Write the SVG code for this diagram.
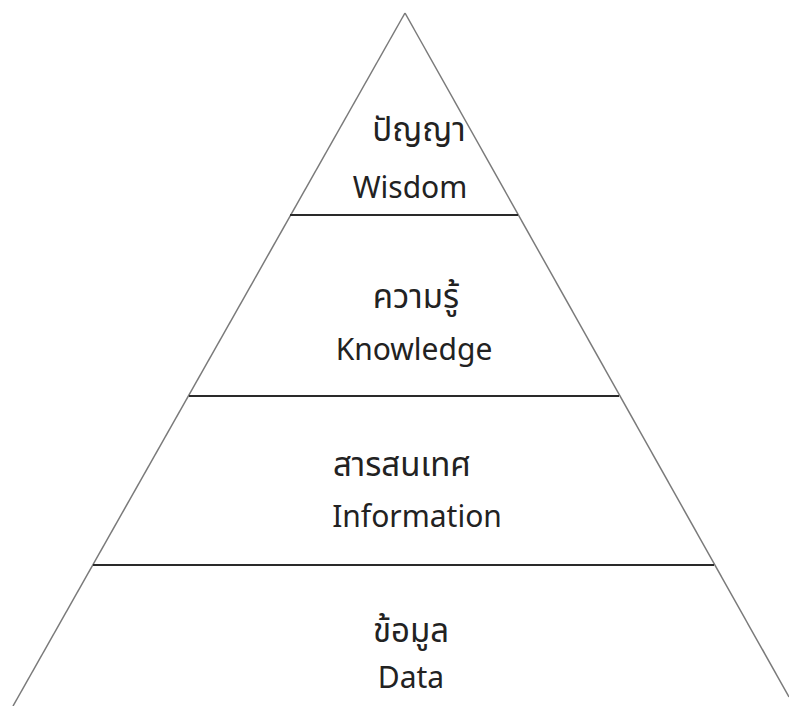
<svg xmlns="http://www.w3.org/2000/svg" width="789" height="706" viewBox="0 0 789 706">
<style>
.side{stroke:#7a7a7a;stroke-width:1.5;fill:none}
.div{stroke:#2a2a2a;stroke-width:2}
text{font-family:"Noto Sans Thai","Noto Sans","Open Sans","DejaVu Sans",sans-serif;font-size:30px;fill:#222;text-anchor:middle}
.th{font-size:33px}
</style>
<rect width="789" height="706" fill="#fff"/>
<g id="connectors">
<line class="side" x1="405" y1="13" x2="13" y2="706"/>
<line class="side" x1="405" y1="13" x2="789" y2="697"/>
<line class="div" x1="290" y1="215" x2="518" y2="215"/>
<line class="div" x1="189" y1="396" x2="619" y2="396"/>
<line class="div" x1="93" y1="565" x2="714" y2="565"/>
</g>
<g id="wisdom"><text class="th" x="419" y="141">ปัญญา</text><text x="410" y="198">Wisdom</text></g>
<g id="knowledge"><text class="th" x="416" y="308">ความรู้</text><text x="414" y="360">Knowledge</text></g>
<g id="information"><text class="th" x="402" y="476">สารสนเทศ</text><text x="417" y="527">Information</text></g>
<g id="data"><text class="th" x="411" y="642">ข้อมูล</text><text x="411" y="688">Data</text></g>
</svg>
